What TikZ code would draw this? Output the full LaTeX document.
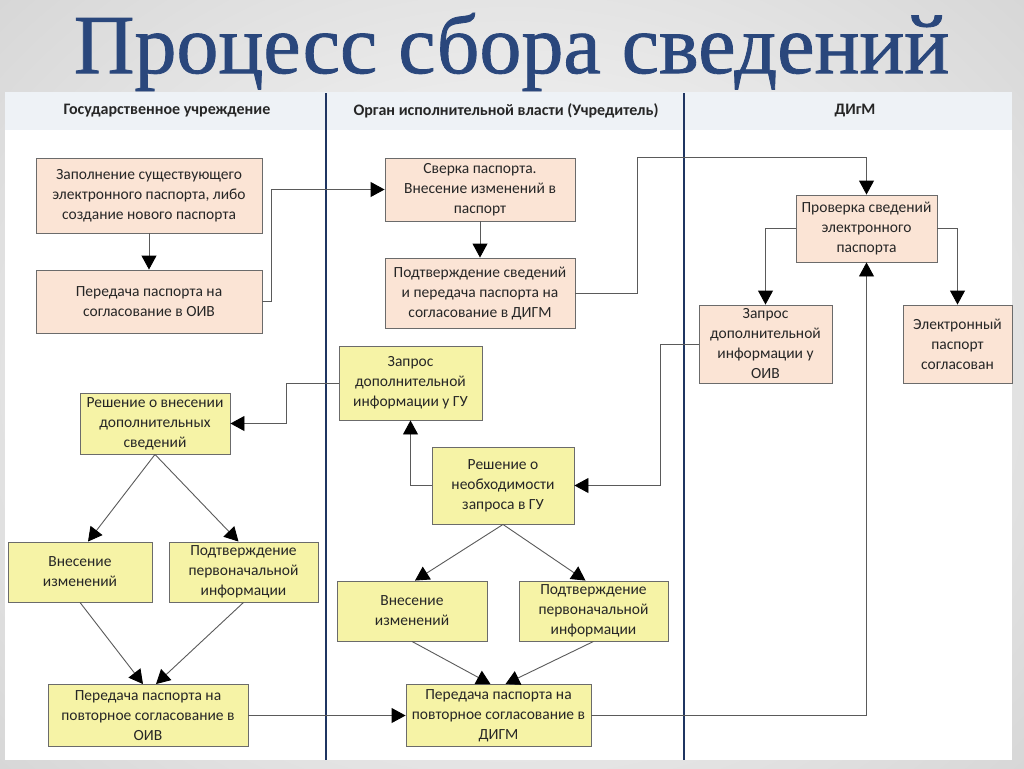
\documentclass[tikz,border=0pt]{standalone}
\usepackage{fontspec}
\setmainfont{Carlito}
\newfontfamily\titlefont[FakeBold=1]{Liberation Serif}
\usetikzlibrary{arrows.meta,calc}
\definecolor{peach}{HTML}{FBE4D5}
\definecolor{yel}{HTML}{F6F3A6}
\definecolor{boxline}{HTML}{6B6B6B}
\definecolor{lineg}{HTML}{5A5A5A}
\definecolor{navy}{HTML}{1F3561}
\definecolor{hdr}{HTML}{EEF2F6}
\definecolor{titleblue}{HTML}{2A477C}
\definecolor{bggray}{HTML}{D6D6D6}
\definecolor{txt}{HTML}{262626}
\newcommand{\bxfont}{\fontsize{15.5}{20}\selectfont}
\tikzset{
  box/.style={draw=boxline, line width=0.9pt, inner sep=0pt, align=center, font=\bxfont, text=txt},
  obox/.style={box, fill=peach},
  ybox/.style={box, fill=yel},
  conn/.style={draw=lineg, line width=0.9pt},
  arr/.style={conn, -{Triangle[length=14pt,width=15pt,color=black]}},
  lane/.style={draw=navy, line width=2pt},
  hdrtext/.style={font=\fontsize{16}{18}\selectfont\bfseries, text=txt}
}
\begin{document}
\begin{tikzpicture}[x=1pt,y=-1pt]
\useasboundingbox (0,0) rectangle (1024,768);
% background
\shade[inner color=white, outer color=bggray] (-200,-200) rectangle (1224,968);
\fill[white] (5,92) rectangle (1012,760);
\fill[hdr] (5,92) rectangle (1012,130);
% title
\node[font=\titlefont\fontsize{84}{90}\selectfont, text=titleblue] (title) at (511.5,52) {Процесс сбора сведений};
% lanes
\draw[lane] (326,93) -- (326,760);
\draw[lane] (684,93) -- (684,760);
\node[hdrtext] (h1) at (167,111) {Государственное учреждение};
\node[hdrtext] (h2) at (506,111) {Орган исполнительной власти (Учредитель)};
\node[hdrtext] (h3) at (855,111) {ДИгМ};
% boxes
\node[obox, minimum width=226pt, minimum height=75pt] (A) at (149,195.5) {Заполнение существующего\\электронного паспорта, либо\\создание нового паспорта};
\node[obox, minimum width=226pt, minimum height=63pt] (B) at (149,301.5) {Передача паспорта на\\согласование в ОИВ};
\node[obox, minimum width=190pt, minimum height=63pt] (C) at (480,189.5) {Сверка паспорта.\\Внесение изменений в\\паспорт};
\node[obox, minimum width=190pt, minimum height=70pt] (D) at (480,293) {Подтверждение сведений\\и передача паспорта на\\согласование в ДИГМ};
\node[obox, minimum width=141pt, minimum height=67pt] (E) at (866.5,228.5) {Проверка сведений\\электронного\\паспорта};
\node[obox, minimum width=133pt, minimum height=78pt] (F) at (765.5,344) {Запрос\\дополнительной\\информации у\\ОИВ};
\node[obox, minimum width=109pt, minimum height=78pt] (G) at (957.5,344) {Электронный\\паспорт\\согласован};
\node[ybox, minimum width=142pt, minimum height=77pt] (H) at (503,485.5) {Решение о\\необходимости\\запроса в ГУ};
\node[ybox, minimum width=143pt, minimum height=74pt] (I) at (410.5,383) {Запрос\\дополнительной\\информации у ГУ};
\node[ybox, minimum width=150pt, minimum height=61pt] (J) at (155,423.5) {Решение о внесении\\дополнительных\\сведений};
\node[ybox, minimum width=144pt, minimum height=60pt] (K) at (80,572) {Внесение\\изменений};
\node[ybox, minimum width=149pt, minimum height=60pt] (L) at (243.5,572) {Подтверждение\\первоначальной\\информации};
\node[ybox, minimum width=200pt, minimum height=62pt] (M) at (148,715.5) {Передача паспорта на\\повторное согласование в\\ОИВ};
\node[ybox, minimum width=150pt, minimum height=60pt] (O) at (412,611) {Внесение\\изменений};
\node[ybox, minimum width=149pt, minimum height=60pt] (P) at (593.5,611) {Подтверждение\\первоначальной\\информации};
\node[ybox, minimum width=185pt, minimum height=62pt] (N) at (498.5,715.5) {Передача паспорта на\\повторное согласование в\\ДИГМ};
% connectors
\draw[arr] (A) -- (B);
\draw[arr] (B.east) -- ++(9,0) |- (C.west);
\draw[arr] (C) -- (D);
\draw[arr] (D.east) -- ++(62,0) |- (E.north |- C.north) -- (E.north);
\draw[arr] (E.west) -| (F.north);
\draw[arr] (E.east) -| (G.north);
\draw[arr] (F.west) -- ++(-38,0) |- (H.east);
\draw[arr] (H.west) -| (I.south);
\draw[arr] (I.west) -- ++(-52,0) |- (J.east);
\draw[arr] (J.south) -- ([xshift=8pt]K.north);
\draw[arr] (J.south) -- ([xshift=-5pt]L.north);
\draw[arr] (K.south) -- ([xshift=-5pt]M.north);
\draw[arr] (L.south) -- ([xshift=8pt]M.north);
\draw[arr] (H.south) -- ([xshift=3pt]O.north);
\draw[arr] (H.south) -- ([xshift=-8pt]P.north);
\draw[arr] (O.south) -- ([xshift=-8pt]N.north);
\draw[arr] (P.south) -- ([xshift=7pt]N.north);
\draw[arr] (M.east) -- (N.west);
\draw[arr] (N.east) -| (E.south);
\end{tikzpicture}
\end{document}
